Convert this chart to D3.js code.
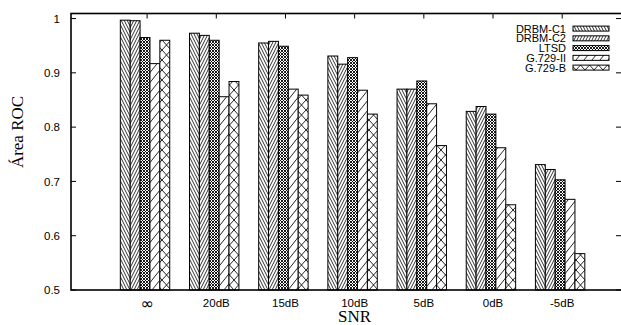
<!DOCTYPE html>
<html><head><meta charset="utf-8">
<script src="https://cdn.jsdelivr.net/npm/d3@7"></script>
<style>body{margin:0;background:#fff}svg{display:block}</style>
</head><body>
<svg id="c" width="621" height="325"></svg>
<script>
const categories = ["∞","20dB","15dB","10dB","5dB","0dB","-5dB"];
const seriesNames = ["DRBM-C1","DRBM-C2","LTSD","G.729-II","G.729-B"];
const drbmC1 = [0.997,0.973,0.955,0.931,0.870,0.829,0.731];
const drbmC2 = [0.996,0.969,0.958,0.916,0.870,0.838,0.722];
const ltsd   = [0.965,0.960,0.949,0.928,0.885,0.824,0.703];
const g729II = [0.917,0.856,0.870,0.868,0.843,0.762,0.667];
const g729B  = [0.960,0.884,0.859,0.824,0.766,0.657,0.567];
const yTicks = [0.5,0.6,0.7,0.8,0.9,1];
const yTickLabels = ["0.5","0.6","0.7","0.8","0.9","1"];
const seriesValues = [drbmC1, drbmC2, ltsd, g729II, g729B];

const svg = d3.select("#c");
const pL = 71, pR = 621, pT = 13.5, pB = 290;
const x = d3.scaleLinear().domain([-1.1, 6.85]).range([pL, pR]);
const y = d3.scaleLinear().domain([0.5, 1.0093]).range([pB, pT]);
const nSeries = seriesNames.length, gap = 2, shift = -0.03;
const bw = 1 / (nSeries + gap);

// patterns
const defs = svg.append("defs");
function pat(id, w, h, d, sw) {
  const p = defs.append("pattern").attr("id", id).attr("patternUnits", "userSpaceOnUse")
    .attr("width", w).attr("height", h);
  p.append("rect").attr("width", w).attr("height", h).attr("fill", "#fff");
  p.append("path").attr("d", d).attr("stroke", "#000").attr("stroke-width", sw).attr("fill", "none");
}
pat("p0", 3, 6, "M-1,-2L4,8M-4,-2L1,8M2,-2L7,8", 0.8);
pat("p1", 3, 6, "M-1,8L4,-2M-4,8L1,-2M2,8L7,-2", 0.8);
pat("p2", 3, 3, "M-1,-1L4,4M-1,4L4,-1M-4,-1L1,4M2,-1L7,4M2,4L7,-1M-4,4L1,-1", 0.9);
pat("p3", 8, 10, "M-0.8,11L8.8,-1M-8.8,11L0.8,-1M7.2,11L16.8,-1", 0.85);
pat("p4", 9, 10, "M-0.9,-1L9.9,11M-0.9,11L9.9,-1", 0.85);

// axes ticks (under bars)
const g = svg.append("g");
yTicks.forEach((t, i) => {
  g.append("line").attr("x1", pL).attr("x2", pL + 5).attr("y1", y(t)).attr("y2", y(t)).attr("stroke", "#000").attr("stroke-width", 1);
  g.append("line").attr("x1", pR - 5).attr("x2", pR).attr("y1", y(t)).attr("y2", y(t)).attr("stroke", "#000").attr("stroke-width", 1);
  g.append("text").attr("x", pL - 11).attr("y", y(t)).attr("dy", "0.36em").attr("text-anchor", "end")
    .attr("font-family", "Liberation Sans, Arial, sans-serif").attr("font-size", 11.5).text(yTickLabels[i]);
});
categories.forEach((c, i) => {
  g.append("line").attr("x1", x(i)).attr("x2", x(i)).attr("y1", pT).attr("y2", pT + 5).attr("stroke", "#000");
  g.append("line").attr("x1", x(i)).attr("x2", x(i)).attr("y1", pB).attr("y2", pB - 5).attr("stroke", "#000");
  g.append("text").attr("x", x(i)).attr("y", c === "∞" ? 308.5 : 306.5).attr("text-anchor", "middle")
    .attr("font-family", c === "∞" ? "DejaVu Sans, sans-serif" : "Liberation Sans, Arial, sans-serif")
    .attr("font-size", c === "∞" ? 16 : 11.5).text(c);
});

// bars
const bars = svg.append("g");
seriesValues.forEach((vals, j) => {
  bars.selectAll(null).data(vals).enter().append("rect")
    .attr("x", (v, i) => x(i + (j - nSeries / 2) * bw + shift))
    .attr("width", (v, i) => x(i + (j + 1 - nSeries / 2) * bw + shift) - x(i + (j - nSeries / 2) * bw + shift))
    .attr("y", v => y(v))
    .attr("height", v => y(0.5) - y(v))
    .attr("fill", `url(#p${j})`).attr("stroke", "#000").attr("stroke-width", 1);
});

// frame
svg.append("rect").attr("x", pL).attr("y", pT).attr("width", pR - pL + 2).attr("height", pB - pT)
  .attr("fill", "none").attr("stroke", "#000").attr("stroke-width", 1.6);

// legend
const leg = svg.append("g");
seriesNames.forEach((s, j) => {
  const cy = 28.6 + j * 9.75;
  leg.append("text").attr("x", 566).attr("y", cy).attr("dy", "0.36em").attr("text-anchor", "end")
    .attr("font-family", "Liberation Sans, Arial, sans-serif").attr("font-size", 11).text(s);
  leg.append("rect").attr("x", 573).attr("y", cy - 2.5).attr("width", 36).attr("height", 5)
    .attr("fill", `url(#p${j})`).attr("stroke", "#000").attr("stroke-width", 1);
});

// axis titles
svg.append("text").attr("x", x(3)).attr("y", 322).attr("text-anchor", "middle")
  .attr("font-family", "Liberation Serif, Times New Roman, serif").attr("font-size", 17).text("SNR");
svg.append("text").attr("transform", "translate(23,132) rotate(-90)").attr("text-anchor", "middle")
  .attr("font-family", "Liberation Serif, Times New Roman, serif").attr("font-size", 17).text("Área ROC");
</script>
</body></html>
